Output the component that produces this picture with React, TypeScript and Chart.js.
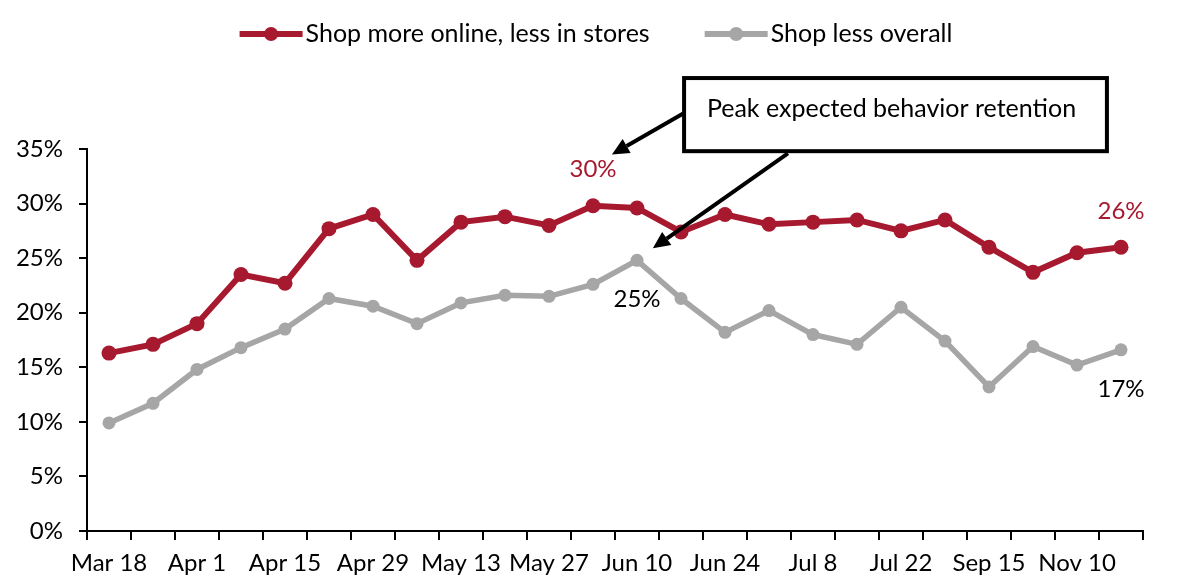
import React, { useEffect, useRef } from 'react';
import { Chart, registerables } from 'chart.js';

Chart.register(...registerables);

const categories = [
  'Mar 18', 'Mar 25', 'Apr 1', 'Apr 8', 'Apr 15', 'Apr 22', 'Apr 29', 'May 6',
  'May 13', 'May 20', 'May 27', 'Jun 3', 'Jun 10', 'Jun 17', 'Jun 24', 'Jul 1',
  'Jul 8', 'Jul 15', 'Jul 22', 'Aug 19', 'Sep 15', 'Oct 13', 'Nov 10', 'Nov 24',
];
const shopMoreOnline = [
  16.3, 17.1, 19.0, 23.5, 22.7, 27.7, 29.0, 24.8, 28.3, 28.8, 28.0, 29.8,
  29.6, 27.4, 29.0, 28.1, 28.3, 28.5, 27.5, 28.5, 26.0, 23.7, 25.5, 26.0,
];
const shopLessOverall = [
  9.9, 11.7, 14.8, 16.8, 18.5, 21.3, 20.6, 19.0, 20.9, 21.6, 21.5, 22.6,
  24.8, 21.3, 18.2, 20.2, 18.0, 17.1, 20.5, 17.4, 13.2, 16.9, 15.2, 16.6,
];
const seriesNames = ['Shop more online, less in stores', 'Shop less overall'];
const seriesColors = ['#A6192E', '#A6A6A6'];
const yMin = 0;
const yMax = 35;
const yStep = 5;

// value callouts: series index, category index, text, side
const pointLabels = [
  { series: 0, index: 11, text: '30%', side: 'above' },
  { series: 0, index: 23, text: '26%', side: 'above' },
  { series: 1, index: 12, text: '25%', side: 'below' },
  { series: 1, index: 23, text: '17%', side: 'below' },
];

// annotation box in data coordinates (x = category index, y = percent)
const calloutText = 'Peak expected behavior retention';
const calloutBox = { x0: 13.07, x1: 22.68, y0: 41.5, y1: 34.8 };
const calloutArrows = [
  { fromX: 13.07, fromY: 38.3, toX: 11.43, toY: 34.5 },
  { fromX: 15.43, fromY: 34.6, toX: 12.36, toY: 25.9 },
];

const FONT = 'Lato, "Open Sans", "DejaVu Sans", sans-serif';

function drawArrow(ctx: CanvasRenderingContext2D, x1: number, y1: number, x2: number, y2: number) {
  const ang = Math.atan2(y2 - y1, x2 - x1);
  const headLen = 17;
  const headW = 8;
  const bx = x2 - headLen * Math.cos(ang);
  const by = y2 - headLen * Math.sin(ang);
  ctx.save();
  ctx.strokeStyle = '#000';
  ctx.fillStyle = '#000';
  ctx.lineWidth = 4;
  ctx.beginPath();
  ctx.moveTo(x1, y1);
  ctx.lineTo(bx, by);
  ctx.stroke();
  ctx.beginPath();
  ctx.moveTo(x2, y2);
  ctx.lineTo(bx + headW * Math.sin(ang), by - headW * Math.cos(ang));
  ctx.lineTo(bx - headW * Math.sin(ang), by + headW * Math.cos(ang));
  ctx.closePath();
  ctx.fill();
  ctx.restore();
}

const overlayPlugin = {
  id: 'overlay',
  afterDraw(chart: any) {
    const ctx: CanvasRenderingContext2D = chart.ctx;
    const xs = chart.scales.x;
    const ys = chart.scales.y;

    // legend
    ctx.save();
    ctx.font = `25px ${FONT}`;
    ctx.textBaseline = 'middle';
    const lineLen = 63;
    const gapText = 3;
    const gapItems = 55;
    const widths = seriesNames.map((n) => ctx.measureText(n).width);
    const total = widths.reduce((a, w) => a + lineLen + gapText + w, 0) + gapItems;
    let lx = 596 - total / 2;
    const ly = 34;
    seriesNames.forEach((name, i) => {
      ctx.strokeStyle = seriesColors[i];
      ctx.fillStyle = seriesColors[i];
      ctx.lineWidth = 6;
      ctx.beginPath();
      ctx.moveTo(lx, ly);
      ctx.lineTo(lx + lineLen, ly);
      ctx.stroke();
      ctx.beginPath();
      ctx.arc(lx + lineLen / 2, ly, 7, 0, Math.PI * 2);
      ctx.fill();
      ctx.fillStyle = '#000';
      ctx.fillText(name, lx + lineLen + gapText, ly);
      lx += lineLen + gapText + widths[i] + gapItems;
    });
    ctx.restore();

    // point value labels
    ctx.save();
    ctx.font = `24px ${FONT}`;
    ctx.textAlign = 'center';
    ctx.textBaseline = 'middle';
    pointLabels.forEach((p) => {
      const el = chart.getDatasetMeta(p.series).data[p.index];
      const dy = p.side === 'above' ? -36 : 39;
      ctx.fillStyle = p.series === 0 ? seriesColors[0] : '#000';
      ctx.fillText(p.text, el.x, el.y + dy);
    });
    ctx.restore();

    // callout box
    const bx0 = xs.getPixelForValue(calloutBox.x0);
    const bx1 = xs.getPixelForValue(calloutBox.x1);
    const by0 = ys.getPixelForValue(calloutBox.y0);
    const by1 = ys.getPixelForValue(calloutBox.y1);
    ctx.save();
    ctx.fillStyle = '#fff';
    ctx.fillRect(bx0, by0, bx1 - bx0, by1 - by0);
    ctx.strokeStyle = '#000';
    ctx.lineWidth = 4;
    ctx.strokeRect(bx0, by0, bx1 - bx0, by1 - by0);
    ctx.fillStyle = '#000';
    ctx.font = `25px ${FONT}`;
    ctx.textAlign = 'center';
    ctx.textBaseline = 'middle';
    ctx.fillText(calloutText, (bx0 + bx1) / 2 - 4, by0 + 31);
    ctx.restore();

    calloutArrows.forEach((a) => {
      drawArrow(
        ctx,
        xs.getPixelForValue(a.fromX),
        ys.getPixelForValue(a.fromY),
        xs.getPixelForValue(a.toX),
        ys.getPixelForValue(a.toY),
      );
    });
  },
};

export default function App() {
  const ref = useRef<HTMLCanvasElement | null>(null);

  useEffect(() => {
    document.body.style.margin = '0';
    const canvas = ref.current;
    if (!canvas) return;
    const chart = new Chart(canvas, {
      type: 'line',
      data: {
        labels: categories,
        datasets: [
          {
            label: seriesNames[0],
            data: shopMoreOnline,
            borderColor: seriesColors[0],
            backgroundColor: seriesColors[0],
            borderWidth: 6,
            pointRadius: 7.5,
            pointBorderWidth: 0,
            pointBackgroundColor: seriesColors[0],
            tension: 0,
          },
          {
            label: seriesNames[1],
            data: shopLessOverall,
            borderColor: seriesColors[1],
            backgroundColor: seriesColors[1],
            borderWidth: 5.5,
            pointRadius: 6.5,
            pointBorderWidth: 0,
            pointBackgroundColor: seriesColors[1],
            tension: 0,
          },
        ],
      },
      options: {
        animation: false,
        responsive: false,
        layout: { padding: { top: 149, right: 35, left: 0, bottom: 0 } },
        plugins: {
          legend: { display: false },
          tooltip: { enabled: false },
        },
        scales: {
          x: {
            type: 'category',
            offset: true,
            grid: {
              offset: true,
              drawOnChartArea: false,
              drawTicks: true,
              tickLength: 9,
              color: '#000',
              lineWidth: 2,
            },
            border: { color: '#000', width: 2 },
            ticks: {
              autoSkip: false,
              maxRotation: 0,
              color: '#000',
              padding: 9,
              font: { family: FONT, size: 24 },
              callback: (_v: any, i: number) => (i % 2 === 0 ? categories[i] : ''),
            },
            afterFit: (s: any) => {
              s.height = 57;
            },
          },
          y: {
            min: yMin,
            max: yMax,
            grid: {
              drawOnChartArea: false,
              drawTicks: true,
              tickLength: 8,
              color: '#000',
              lineWidth: 2,
            },
            border: { color: '#000', width: 2 },
            ticks: {
              stepSize: yStep,
              color: '#000',
              padding: 16,
              font: { family: FONT, size: 24 },
              callback: (v: any) => `${v}%`,
            },
            afterFit: (s: any) => {
              s.width = 87;
            },
          },
        },
      },
      plugins: [overlayPlugin],
    } as any);
    return () => chart.destroy();
  }, []);

  return (
    <div style={{ width: 1178, height: 588 }}>
      <canvas ref={ref} width={1178} height={588} />
    </div>
  );
}
